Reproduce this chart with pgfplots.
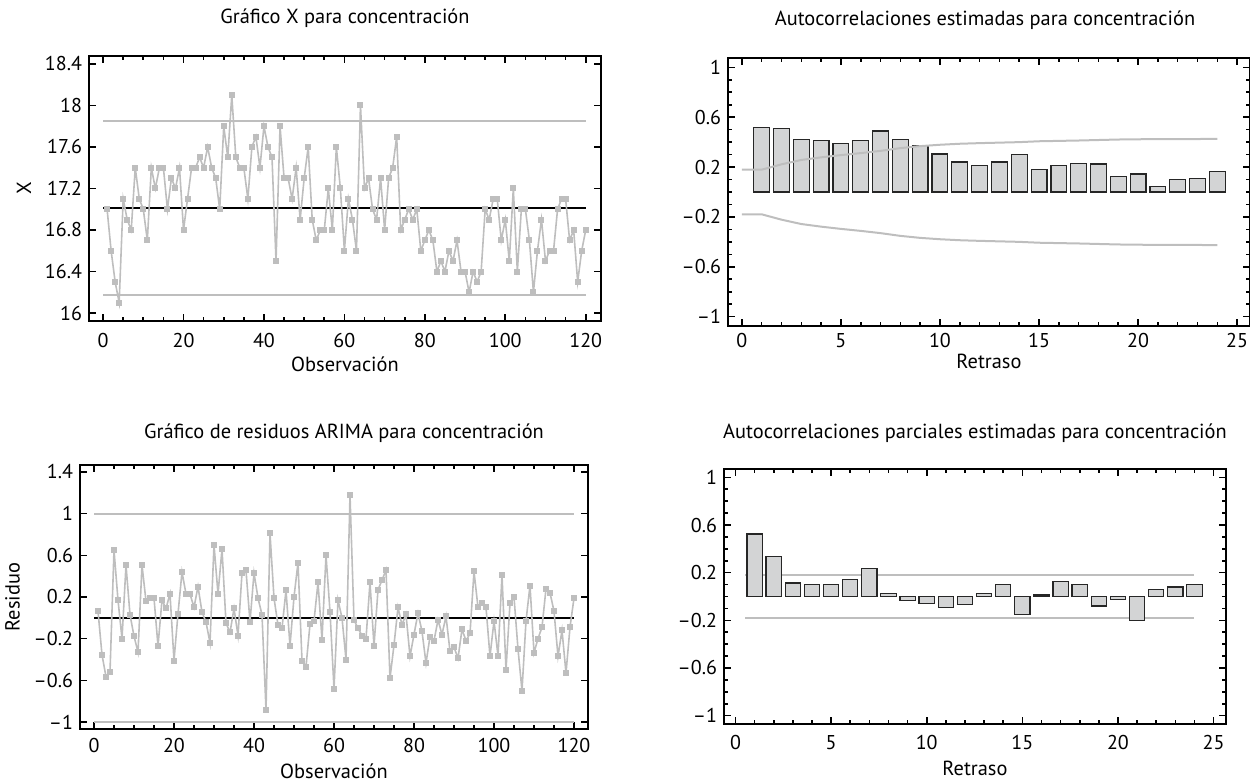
\documentclass[border=0pt]{standalone}
\usepackage{pgfplots}
\pgfplotsset{compat=1.18}
\usepackage{fontspec}
\setmainfont{PT Sans}
\definecolor{lgray}{HTML}{BEBEBE}
\definecolor{barfill}{HTML}{D3D4D5}
\pgfplotsset{
  panel/.style={
    scale only axis,
    axis line style={line width=1.2pt},
    tick style={black, line width=0.8pt},
    major tick length=3.5pt, minor tick length=2.2pt,
    tick align=inside,
    font=\fontsize{10.2}{11}\selectfont,
    tick label style={font=\fontsize{10}{11}\selectfont},
    label style={font=\fontsize{10.2}{11}\selectfont},
    title style={font=\fontsize{10.2}{11}\selectfont, at={(0.5,1)}, anchor=south, yshift=4.5pt},
    clip=false,
  },
  obsx/.style={
    xtick={0,20,...,120}, xticklabels={0,20,40,60,80,100,120},
    minor x tick num=3,
    xlabel={Observación},
  },
  lagx/.style={
    xtick={0,5,...,25}, xticklabels={0,5,10,15,20,25},
    minor x tick num=4,
    xlabel={Retraso},
    ytick={-1,-0.6,-0.2,0.2,0.6,1},
    yticklabels={–1,–0.6,–0.2,0.2,0.6,1},
    minor y tick num=3,
  },
}

\pgfplotstableread{
x y
1 17.0
2 16.6
3 16.3
4 16.1
5 17.1
6 16.9
7 16.8
8 17.4
9 17.1
10 17.0
11 16.7
12 17.4
13 17.2
14 17.4
15 17.4
16 17.0
17 17.3
18 17.2
19 17.4
20 16.8
21 17.1
22 17.4
23 17.4
24 17.5
25 17.4
26 17.6
27 17.4
28 17.3
29 17.0
30 17.8
31 17.5
32 18.1
33 17.5
34 17.4
35 17.4
36 17.1
37 17.6
38 17.7
39 17.4
40 17.8
41 17.6
42 17.5
43 16.5
44 17.8
45 17.3
46 17.3
47 17.1
48 17.4
49 16.9
50 17.3
51 17.6
52 16.9
53 16.7
54 16.8
55 16.8
56 17.2
57 16.8
58 17.6
59 17.2
60 16.6
61 17.1
62 16.9
63 16.6
64 18.0
65 17.2
66 17.3
67 17.0
68 16.9
69 17.3
70 16.8
71 17.3
72 17.4
73 17.7
74 16.8
75 16.9
76 17.0
77 16.9
78 17.0
79 16.6
80 16.7
81 16.8
82 16.7
83 16.4
84 16.5
85 16.4
86 16.6
87 16.5
88 16.7
89 16.4
90 16.4
91 16.2
92 16.4
93 16.3
94 16.4
95 17.0
96 16.9
97 17.1
98 17.1
99 16.7
100 16.9
101 16.5
102 17.2
103 16.4
104 17.0
105 17.0
106 16.7
107 16.2
108 16.6
109 16.9
110 16.5
111 16.6
112 16.6
113 17.0
114 17.1
115 17.1
116 16.7
117 16.8
118 16.3
119 16.6
120 16.8
}\conc

\pgfplotstableread{
x y
1 0.065
2 -0.355
3 -0.565
4 -0.52
5 0.65
6 0.17
7 -0.20
8 0.505
9 0.03
10 -0.175
11 -0.33
12 0.505
13 0.16
14 0.19
15 0.19
16 -0.27
17 0.17
18 0.09
19 0.23
20 -0.41
21 0.04
22 0.44
23 0.23
24 0.23
25 0.10
26 0.30
27 0.055
28 -0.04
29 -0.24
30 0.70
31 0.23
32 0.66
33 -0.05
34 -0.14
35 0.09
36 -0.17
37 0.43
38 0.455
39 -0.04
40 0.43
41 0.19
42 0.03
43 -0.88
44 0.81
45 0.19
46 -0.07
47 -0.10
48 0.265
49 -0.27
50 0.20
51 0.53
52 -0.41
53 -0.47
54 -0.06
55 -0.03
56 0.34
57 -0.21
58 0.60
59 0.06
60 -0.68
61 0.17
62 0.0
63 -0.40
64 1.18
65 -0.02
66 -0.10
67 -0.17
68 -0.20
69 0.34
70 -0.27
71 0.27
72 0.36
73 0.46
74 -0.58
75 -0.26
76 0.10
77 -0.07
78 0.035
79 -0.37
80 -0.16
81 0.045
82 -0.13
83 -0.435
84 -0.18
85 -0.22
86 -0.02
87 -0.16
88 0.015
89 -0.32
90 -0.28
91 -0.39
92 -0.11
93 -0.22
94 -0.15
95 0.445
96 0.10
97 0.14
98 0.10
99 -0.37
100 -0.03
101 -0.365
102 0.41
103 -0.50
104 0.14
105 0.20
106 -0.30
107 -0.70
108 -0.03
109 0.31
110 -0.335
111 -0.20
112 -0.09
113 0.28
114 0.24
115 0.065
116 -0.37
117 -0.12
118 -0.53
119 -0.09
120 0.19
}\resid

\pgfplotstableread{
x y
1 0.52
2 0.51
3 0.42
4 0.41
5 0.39
6 0.415
7 0.49
8 0.42
9 0.37
10 0.305
11 0.24
12 0.21
13 0.24
14 0.30
15 0.18
16 0.215
17 0.23
18 0.225
19 0.126
20 0.145
21 0.045
22 0.10
23 0.108
24 0.163
}\acf

\pgfplotstableread{
x up lo
0 0.179 -0.179
1 0.179 -0.179
2 0.222 -0.222
3 0.257 -0.257
4 0.278 -0.278
5 0.296 -0.296
6 0.312 -0.312
7 0.330 -0.330
8 0.352 -0.352
9 0.368 -0.368
10 0.379 -0.379
11 0.387 -0.387
12 0.392 -0.392
13 0.396 -0.396
14 0.400 -0.400
15 0.407 -0.407
16 0.410 -0.410
17 0.413 -0.413
18 0.417 -0.417
19 0.421 -0.421
20 0.423 -0.423
21 0.424 -0.424
22 0.424 -0.424
23 0.425 -0.425
24 0.426 -0.426
}\acflim

\pgfplotstableread{
x y
1 0.525
2 0.335
3 0.113
4 0.104
5 0.099
6 0.14
7 0.236
8 0.027
9 -0.033
10 -0.06
11 -0.093
12 -0.066
13 0.027
14 0.099
15 -0.151
16 0.012
17 0.126
18 0.104
19 -0.08
20 -0.025
21 -0.203
22 0.06
23 0.08
24 0.099
}\pacf

\begin{document}
\begin{tikzpicture}
\useasboundingbox (0,0) rectangle (625pt,391pt);

% Top left: X chart
\begin{axis}[panel, obsx,
  at={(44.5pt,230.5pt)}, anchor=south west,
  width=256pt, height=132.5pt,
  xmin=-3.5, xmax=123.8, ymin=15.923, ymax=18.477,
  ytick={16,16.4,...,18.4},
  yticklabels={16,16.4,16.8,17.2,17.6,18,18.4},
  xticklabel style={yshift=-2.5pt},
  xlabel style={yshift=2pt},
  ylabel={X},
  ylabel style={yshift=0pt},
  title={Gráfico X para concentración},
]
\addplot[lgray, line width=1pt] coordinates {(0,17.85) (120,17.85)};
\addplot[lgray, line width=1pt] coordinates {(0,16.17) (120,16.17)};
\addplot[black, line width=0.9pt] coordinates {(0,17.01) (120,17.01)};
\addplot[lgray, line width=0.8pt, mark=square*, mark size=1.1pt, mark options={fill=lgray, draw=lgray}] table[x=x, y=y] {\conc};
\end{axis}

% Top right: ACF
\begin{axis}[panel, lagx,
  at={(364pt,228pt)}, anchor=south west,
  width=261pt, height=134pt,
  xmin=-0.7, xmax=25.65, ymin=-1.075, ymax=1.075,
  xlabel style={yshift=3.5pt},
  title={Autocorrelaciones estimadas para concentración},
  title style={xshift=-2pt},
]
\addplot[ybar, bar width=0.8, fill=barfill, draw=black!85, line width=0.6pt] table[x=x, y=y] {\acf};
\addplot[lgray, line width=1pt] table[x=x, y=up] {\acflim};
\addplot[lgray, line width=1pt] table[x=x, y=lo] {\acflim};
\end{axis}

% Bottom left: residuals
\begin{axis}[panel, obsx,
  at={(40pt,26.5pt)}, anchor=south west,
  width=254pt, height=132pt,
  xmin=-3.5, xmax=123.5, ymin=-1.067, ymax=1.467,
  ytick={-1,-0.6,-0.2,0.2,0.6,1,1.4},
  yticklabels={–1,–0.6,–0.2,0.2,0.6,1,1.4},
  xticklabel style={yshift=-1pt},
  xlabel style={yshift=1pt},
  ylabel={Residuo},
  ylabel style={yshift=0pt},
  title={Gráfico de residuos ARIMA para concentración},
  title style={xshift=5pt, yshift=-3pt},
]
\addplot[lgray, line width=1pt] coordinates {(0,1.0) (120,1.0)};
\addplot[lgray, line width=1pt] coordinates {(0,-1.0) (120,-1.0)};
\addplot[black, line width=0.9pt] coordinates {(0,0) (120,0)};
\addplot[lgray, line width=0.8pt, mark=square*, mark size=1.1pt, mark options={fill=lgray, draw=lgray}] table[x=x, y=y] {\resid};
\end{axis}

% Bottom right: PACF
\begin{axis}[panel, lagx,
  at={(362pt,29pt)}, anchor=south west,
  width=251pt, height=127.5pt,
  xmin=-0.6, xmax=25.65, ymin=-1.07, ymax=1.07,
  xticklabel style={yshift=-2pt},
  xlabel style={yshift=1pt},
  title={Autocorrelaciones parciales estimadas para concentración},
  title style={yshift=-1pt},
]
\addplot[lgray, line width=1pt] coordinates {(0.5,0.179) (24,0.179)};
\addplot[lgray, line width=1pt] coordinates {(0.5,-0.179) (24,-0.179)};
\addplot[ybar, bar width=0.8, fill=barfill, draw=black!85, line width=0.6pt] table[x=x, y=y] {\pacf};
\end{axis}
\end{tikzpicture}
\end{document}
